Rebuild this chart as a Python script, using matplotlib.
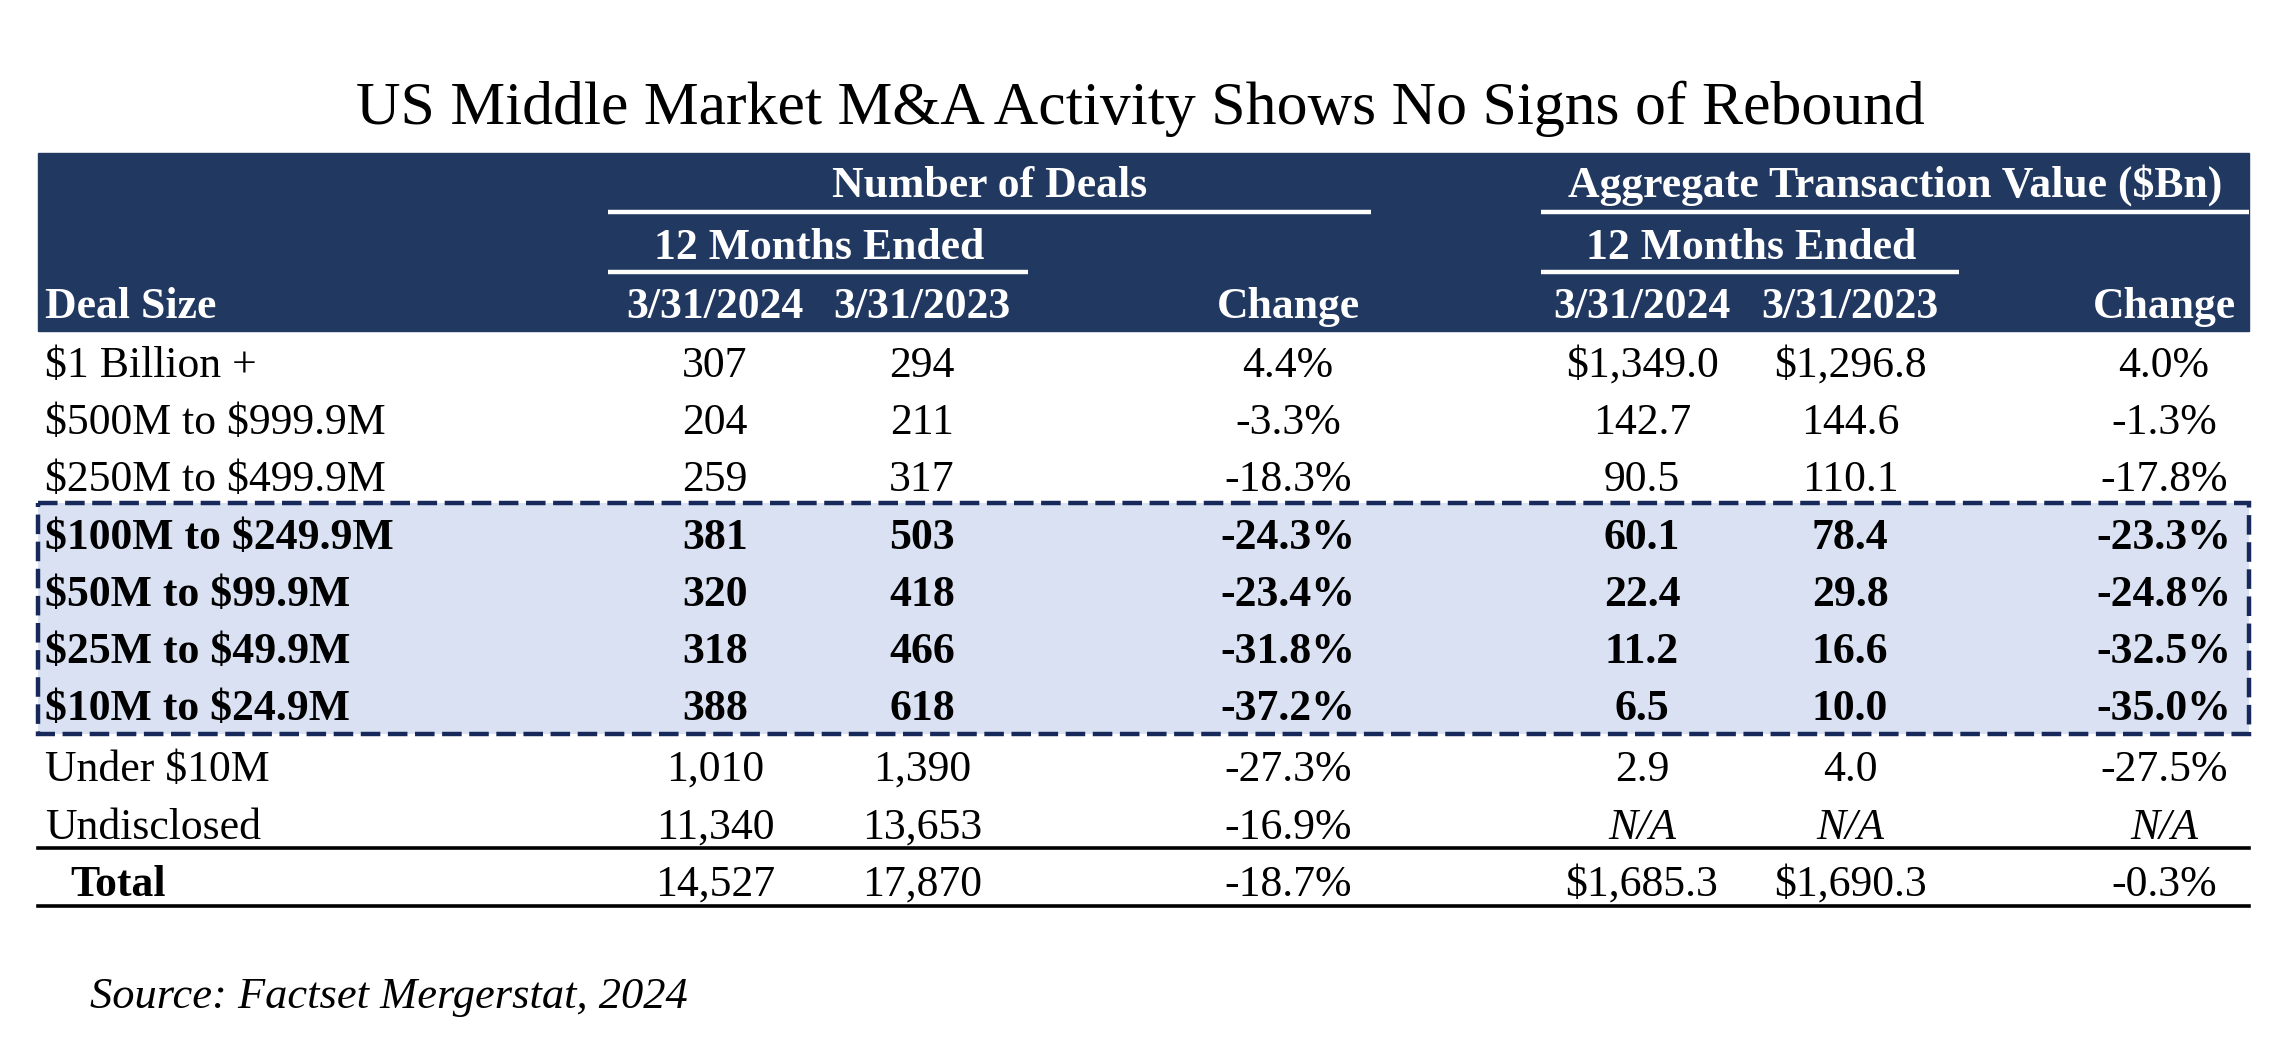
import matplotlib.pyplot as plt
from matplotlib.patches import Rectangle

plt.rcParams['font.family'] = ['Liberation Serif', 'DejaVu Serif']
plt.rcParams['text.parse_math'] = False

title = "US Middle Market M&A Activity Shows No Signs of Rebound"
source = "Source: Factset Mergerstat, 2024"

deal_sizes = ["$1 Billion +", "$500M to $999.9M", "$250M to $499.9M",
              "$100M to $249.9M", "$50M to $99.9M", "$25M to $49.9M",
              "$10M to $24.9M", "Under $10M", "Undisclosed", "Total"]
deals_2024 = ["307", "204", "259", "381", "320", "318", "388", "1,010", "11,340", "14,527"]
deals_2023 = ["294", "211", "317", "503", "418", "466", "618", "1,390", "13,653", "17,870"]
deals_chg = ["4.4%", "-3.3%", "-18.3%", "-24.3%", "-23.4%", "-31.8%", "-37.2%",
             "-27.3%", "-16.9%", "-18.7%"]
value_2024 = ["$1,349.0", "142.7", "90.5", "60.1", "22.4", "11.2", "6.5", "2.9", "N/A", "$1,685.3"]
value_2023 = ["$1,296.8", "144.6", "110.1", "78.4", "29.8", "16.6", "10.0", "4.0", "N/A", "$1,690.3"]
value_chg = ["4.0%", "-1.3%", "-17.8%", "-23.3%", "-24.8%", "-32.5%", "-35.0%",
             "-27.5%", "N/A", "-0.3%"]
highlight = [3, 4, 5, 6]

navy = '#213861'
fill = '#D9E1F2'

fig = plt.figure(figsize=(22.7, 10.4), dpi=100)
ax = fig.add_axes([0, 0, 1, 1])
ax.set_xlim(0, 2270)
ax.set_ylim(1040, 0)
ax.axis('off')

fs = 31.5

# title
ax.text(1140, 124, title, ha='center', va='baseline', fontsize=44.5, color='black')

# header band
ax.add_patch(Rectangle((38, 153), 2249 - 38, 331 - 153, color=navy, zorder=1))

hdr = dict(color='white', fontweight='bold', fontsize=fs, va='baseline', zorder=3)
ax.text(990, 197, "Number of Deals", ha='center', **hdr)
ax.text(1895, 197, "Aggregate Transaction Value ($Bn)", ha='center', **hdr)
ax.plot([608, 1371], [212, 212], color='white', lw=3.2, zorder=3, solid_capstyle='butt')
ax.plot([1541, 2249], [212, 212], color='white', lw=3.2, zorder=3, solid_capstyle='butt')
ax.text(819, 259, "12 Months Ended", ha='center', **hdr)
ax.text(1751, 259, "12 Months Ended", ha='center', **hdr)
ax.plot([608, 1028], [272, 272], color='white', lw=3.2, zorder=3, solid_capstyle='butt')
ax.plot([1541, 1959], [272, 272], color='white', lw=3.2, zorder=3, solid_capstyle='butt')

col_x = [715, 922, 1288, 1642, 1850, 2164]
col_hdr = ["3/31/2024", "3/31/2023", "Change", "3/31/2024", "3/31/2023", "Change"]
ax.text(45, 318, "Deal Size", ha='left', **hdr)
for x, h in zip(col_x, col_hdr):
    ax.text(x, 318, h, ha='center', **hdr)

# highlighted block
ax.add_patch(Rectangle((38, 503), 2249 - 38, 734 - 503, facecolor=fill,
                       edgecolor='#16295a', lw=3.2, linestyle=(0, (4.4, 1.7)), zorder=1))

# rules around total
ax.plot([38, 2249], [848, 848], color='black', lw=2.6, zorder=2)
ax.plot([38, 2249], [906, 906], color='black', lw=2.6, zorder=2)

row_y = [377, 434, 491, 549, 606, 663, 720, 781, 839, 896]
cols = [deals_2024, deals_2023, deals_chg, value_2024, value_2023, value_chg]
for i, label in enumerate(deal_sizes):
    bold = i in highlight
    weight = 'bold' if bold else 'normal'
    y = row_y[i]
    if label == "Total":
        ax.text(70, y, label, ha='left', va='baseline', fontsize=fs, fontweight='bold', zorder=3)
    else:
        ax.text(45, y, label, ha='left', va='baseline', fontsize=fs, fontweight=weight, zorder=3)
    for x, col in zip(col_x, cols):
        s = col[i]
        style = 'italic' if s == "N/A" else 'normal'
        ax.text(x, y, s, ha='center', va='baseline', fontsize=fs,
                fontweight=weight, fontstyle=style, zorder=3)

ax.text(90, 1008, source, ha='left', va='baseline', fontsize=32, fontstyle='italic')

fig.savefig('out.png', dpi=100, facecolor='white')
